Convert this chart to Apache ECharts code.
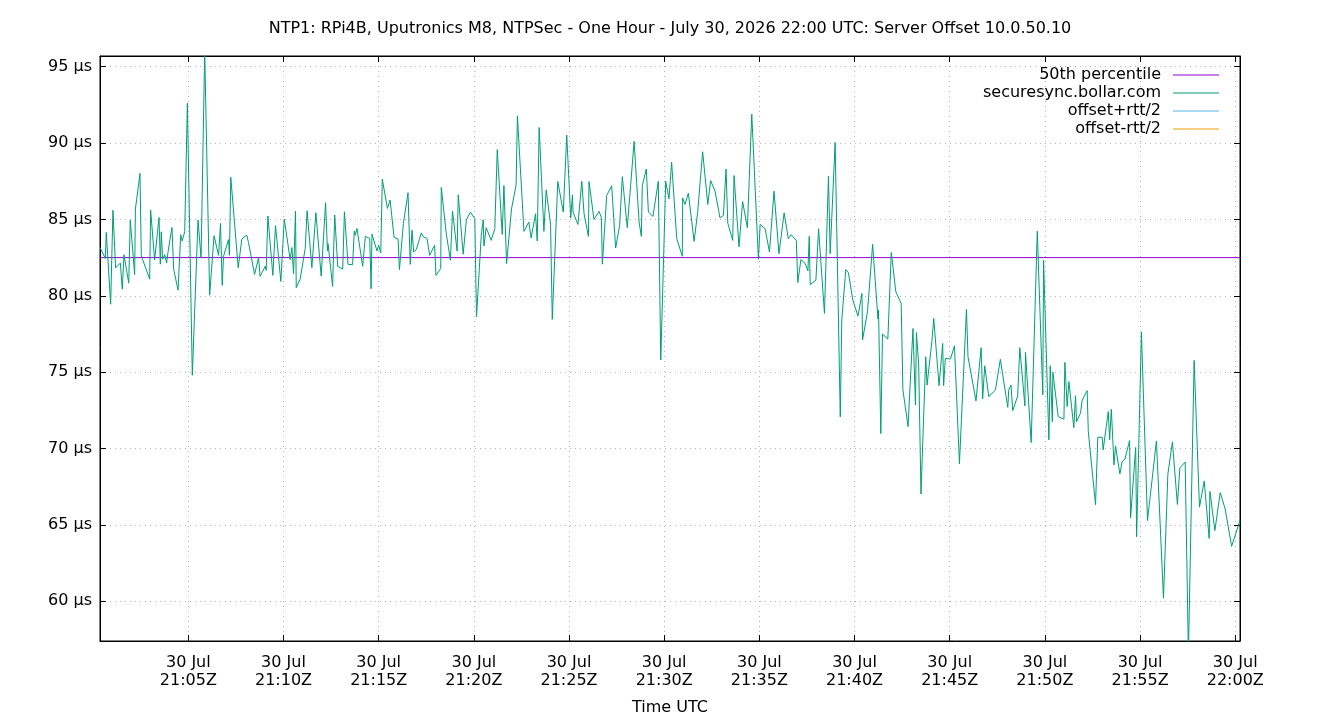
<!DOCTYPE html>
<html>
<head>
<meta charset="utf-8">
<title>NTP1 Server Offset</title>
<script src="https://cdn.jsdelivr.net/npm/echarts@6.0.0/dist/echarts.min.js"></script>
<style>
    html, body { margin: 0; padding: 0; background: #fff; }
    #chart { width: 1340px; height: 720px; }
</style>
</head>
<body>
<div id="chart"></div>
<script>
// minutes after 21:00 UTC
var minutes = [
    0.36, 0.64, 0.69, 0.92, 1.04, 1.18, 1.43, 1.53, 1.62, 1.87, 1.95, 2.18, 2.22, 2.46, 2.53, 2.97, 3.02, 3.23, 3.46, 3.53,
    3.58, 3.65, 3.76, 3.86, 3.93, 4.14, 4.23, 4.46, 4.60, 4.68, 4.81, 4.95, 5.21, 5.51, 5.67, 5.86, 6.12, 6.35,
    6.59, 6.69, 6.78, 6.85, 7.11, 7.16, 7.23, 7.62, 7.81, 8.07, 8.16, 8.48, 8.69, 8.77, 9.04, 9.09, 9.18, 9.44, 9.58, 9.86,
    10.04, 10.35, 10.44, 10.53, 10.63, 10.67, 10.88, 11.14, 11.24, 11.49, 11.70, 11.98, 12.21, 12.31,
    12.34, 12.58, 12.69, 12.85, 13.11, 13.20, 13.39, 13.63, 13.72, 13.77, 13.86, 14.16, 14.30, 14.53, 14.60, 14.65, 14.91,
    15.00, 15.11, 15.19, 15.46, 15.60, 15.81, 16.02, 16.09, 16.30, 16.54, 16.66, 16.75, 16.84, 16.98, 17.24, 17.35, 17.54,
    17.68, 17.94, 18.01, 18.26, 18.29,
    18.55, 18.77, 18.88, 19.12, 19.18, 19.44, 19.61, 19.82, 20.05, 20.14, 20.39, 20.49, 20.53, 20.65, 20.91, 21.10, 21.23,
    21.49, 21.58, 21.72, 21.98, 22.22, 22.29, 22.63, 22.89, 23.01, 23.24, 23.33, 23.43, 23.68, 23.80, 24.03, 24.12, 24.41,
    24.70, 24.88, 25.09, 25.18, 25.21, 25.47, 25.67, 25.79, 26.02, 26.05, 26.31, 26.58, 26.70, 26.75, 26.98, 27.24, 27.45,
    27.66, 27.80, 28.06, 28.42, 28.68, 28.80, 28.85, 29.06, 29.17, 29.41, 29.69, 29.82, 30.08, 30.25, 30.39,
    30.66, 30.95, 30.97, 31.09, 31.27, 31.57, 31.76, 32.02, 32.29, 32.44, 32.67, 32.93, 33.11, 33.25, 33.34, 33.60, 33.67,
    33.93, 34.12, 34.37, 34.60, 34.95, 35.04, 35.30, 35.53, 35.77, 36.03, 36.30, 36.52,
    36.67, 36.94, 37.02, 37.18, 37.41, 37.55, 37.62, 37.67, 37.97, 38.11, 38.42, 38.63, 38.72, 38.98, 39.25, 39.33, 39.54,
    39.68, 39.91, 40.18, 40.39, 40.42, 40.68, 40.95, 41.23, 41.26, 41.38, 41.47, 41.75, 41.93, 42.17, 42.45, 42.54,
    42.81, 43.07, 43.20, 43.25, 43.37, 43.49, 43.74, 43.81, 44.07, 44.16, 44.44, 44.63, 44.68, 44.77, 45.04, 45.25, 45.51,
    45.88, 45.96, 46.38, 46.65, 46.73, 46.84, 47.05, 47.40, 47.49, 47.66, 48.05, 48.10, 48.22, 48.31, 48.57, 48.68,
    48.95, 48.98, 49.28, 49.60, 49.89, 49.93, 50.21, 50.28, 50.39, 50.42, 50.70, 51.00, 51.05, 51.17, 51.26, 51.52, 51.61,
    51.66, 51.87, 51.96, 52.22, 52.28, 52.66, 52.78, 53.01, 53.06, 53.33, 53.40, 53.49, 53.63, 53.71, 53.94, 54.06, 54.20,
    54.45, 54.50,
    54.77, 54.82, 55.07, 55.39, 55.86, 56.23, 56.46, 56.70, 56.96, 57.09, 57.37, 57.54, 57.84, 58.12, 58.37, 58.63, 58.67,
    58.93, 59.21, 59.47, 59.81, 60.25
];
// offset in µs
var offsetUs = [
    83.17, 82.45, 84.15, 79.45, 85.6, 81.83, 82.14, 80.44, 82.69, 80.83, 84.96, 81.38, 85.68, 88.01, 82.62, 81.09, 85.61, 82.34, 85.13, 82.07,
    84.19, 82.4, 82.69, 82.14, 82.84, 84.48, 81.75, 80.37, 84.0, 83.6, 84.19, 92.6, 74.8, 84.96, 82.47, 96.0, 80.04, 83.93,
    82.65, 84.74, 80.68, 82.59, 83.68, 82.65, 87.76, 81.84, 83.71, 83.97, 83.5, 81.4, 82.5, 81.27, 81.93, 81.67, 85.22, 81.34, 84.6, 80.94,
    85.02, 82.37, 83.16, 81.45, 85.55, 80.53, 81.12, 83.09, 85.57, 81.84, 85.44, 81.29, 86.1, 82.94,
    83.42, 80.61, 85.29, 81.93, 81.75, 85.5, 82.06, 82.04, 84.25, 83.97, 84.41, 81.93, 83.9, 83.75, 80.46, 84.04, 82.94,
    83.31, 82.81, 87.63, 85.72, 86.27, 83.82, 83.71, 81.71, 84.74, 86.75, 82.06, 84.3, 82.87, 83.03, 84.12, 83.86, 83.75,
    82.65, 83.31, 81.34, 81.78, 87.1,
    84.07, 82.33, 85.54, 82.93, 86.61, 82.72, 84.98, 85.48, 85.04, 78.63, 83.96, 84.98, 83.26, 84.46, 83.63, 84.39, 89.57,
    84.02, 87.22, 82.11, 85.7, 87.26, 91.78, 84.22, 84.83, 83.78, 85.37, 83.59, 91.02, 84.22, 86.93, 84.67, 78.46, 87.48,
    85.48, 90.52, 85.11, 86.61, 85.48, 84.67, 87.5, 85.37, 83.89, 87.48, 85.0, 85.52, 85.11, 82.07, 86.57, 87.2, 83.13,
    84.61, 87.8, 84.46, 90.11, 84.83, 83.89, 87.22, 88.3, 85.48, 85.2, 87.5, 75.8, 87.5, 86.35, 88.74,
    83.74, 82.59, 86.41, 85.98, 86.72, 83.57, 85.48, 89.43, 85.98, 87.54, 86.85, 85.11, 85.26, 88.3, 84.76, 83.63, 87.87,
    83.2, 86.17, 84.46, 91.89, 82.39, 84.67, 84.39, 82.87, 86.85, 82.76, 85.43, 83.74,
    84.0, 83.63, 80.87, 82.37, 82.11, 81.63, 83.89, 80.74, 81.02, 84.39, 78.85, 87.83, 82.76, 90.04, 72.07, 78.41, 81.72,
    81.5, 79.72, 78.67, 80.15, 77.11, 78.96, 83.37, 78.48, 79.07, 70.98, 77.5, 77.17, 82.83, 80.26, 79.5, 73.85,
    71.44, 77.86, 72.85, 77.6, 75.47, 67.02, 76.01, 74.16, 77.1, 78.52, 74.12, 76.88, 74.12, 75.9, 75.86, 76.73, 69.0,
    79.11, 76.01, 73.12, 76.6, 73.25, 75.42, 73.4, 73.83, 73.94, 75.84, 72.7, 73.83, 74.16, 72.48, 73.44, 76.6,
    72.79, 76.3, 70.39, 84.23, 73.51, 82.33, 70.57, 75.42, 71.76, 75.0, 72.09, 71.92, 75.64, 72.75, 74.38, 71.37, 73.46,
    71.76, 72.31, 73.18, 73.79, 71.11, 66.32, 70.74, 70.74, 69.91, 72.42, 70.57, 72.57, 68.93, 70.17, 68.34, 69.15, 69.3,
    70.52, 65.45,
    70.07, 64.23, 77.63, 65.29, 70.5, 60.2, 68.31, 70.44, 66.34, 68.73, 69.12, 56.5, 75.77, 66.16, 67.87, 64.12, 67.19,
    64.63, 67.11, 66.05, 63.6, 65.29
];
var median50 = 82.5;
var seriesNames = ['50th percentile', 'securesync.bollar.com', 'offset+rtt/2', 'offset-rtt/2'];
var seriesColors = ['#9400d3', '#009e73', '#56b4e9', '#e69f00'];
var yMin = 57.4;
var yMax = 95.7;

(function () {
    var font = 'DejaVu Sans';
    var xMin = minutes[0];
    var xMax = minutes[minutes.length - 1];

    // [time, value] pairs
    var offsetData = minutes.map(function (m, i) {
        return [m, offsetUs[i]];
    });
    var medianData = [[xMin, median50], [xMax, median50]];

    // 30 Jul / 21:05Z
    var timeLabel = function (v) {
        var h = 21 + Math.floor(v / 60);
        var m = Math.round(v % 60);
        return '30 Jul\n' + h + ':' + (m < 10 ? '0' + m : m) + 'Z';
    };

    var tick = { show: true, inside: true, length: 6, lineStyle: { color: '#000', width: 1 } };
    var axisLine = { show: true, lineStyle: { color: '#000', width: 1 } };
    var grid = { show: true, lineStyle: { color: '#b4b4b4', width: 1, type: [1, 4] } };

    var option = {
        animation: false,
        backgroundColor: '#fff',
        title: {
            text: 'NTP1: RPi4B, Uputronics M8, NTPSec - One Hour - July 30, 2026 22:00 UTC: Server Offset 10.0.50.10',
            left: 'center',
            top: 16,
            textStyle: { fontFamily: font, fontSize: 16, fontWeight: 'normal', color: '#000' }
        },
        legend: {
            orient: 'vertical',
            right: 116,
            top: 62,
            align: 'right',
            icon: 'rect',
            itemWidth: 46,
            itemHeight: 1,
            itemGap: 2,
            data: seriesNames,
            textStyle: { fontFamily: font, fontSize: 16, color: '#000', padding: [0, 7, 0, 0] }
        },
        grid: {
            left: 100,
            right: 100,
            top: 56,
            bottom: 79,
            outerBoundsMode: 'none',
            show: true,
            borderColor: '#000',
            borderWidth: 1
        },
        xAxis: [
            {
                type: 'value',
                min: xMin,
                max: xMax,
                splitNumber: 12,
                name: 'Time UTC',
                nameLocation: 'middle',
                nameGap: 59,
                nameTextStyle: { fontFamily: font, fontSize: 16, color: '#000' },
                axisLine: axisLine,
                axisTick: tick,
                splitLine: grid,
                axisLabel: {
                    showMinLabel: false,
                    showMaxLabel: false,
                    margin: 13,
                    lineHeight: 18,
                    fontFamily: font,
                    fontSize: 16,
                    color: '#000',
                    formatter: timeLabel
                }
            },
            {
                type: 'value',
                position: 'top',
                min: xMin,
                max: xMax,
                splitNumber: 12,
                axisLine: axisLine,
                axisTick: tick,
                splitLine: { show: false },
                axisLabel: { show: false }
            }
        ],
        yAxis: [
            {
                type: 'value',
                min: yMin,
                max: yMax,
                splitNumber: 8,
                axisLine: axisLine,
                axisTick: tick,
                splitLine: grid,
                axisLabel: {
                    showMinLabel: false,
                    showMaxLabel: false,
                    margin: 8,
                    fontFamily: font,
                    fontSize: 16,
                    color: '#000',
                    formatter: '{value} µs'
                }
            },
            {
                type: 'value',
                position: 'right',
                min: yMin,
                max: yMax,
                splitNumber: 8,
                axisLine: axisLine,
                axisTick: tick,
                splitLine: { show: false },
                axisLabel: { show: false }
            }
        ],
        series: [
            {
                name: seriesNames[0],
                type: 'line',
                data: medianData,
                symbol: 'none',
                color: seriesColors[0],
                lineStyle: { color: seriesColors[0], width: 1 }
            },
            {
                name: seriesNames[1],
                type: 'line',
                data: offsetData,
                symbol: 'none',
                color: seriesColors[1],
                lineStyle: { color: seriesColors[1], width: 1 }
            },
            {
                name: seriesNames[2],
                type: 'line',
                data: [],
                symbol: 'none',
                color: seriesColors[2],
                lineStyle: { color: seriesColors[2], width: 1 }
            },
            {
                name: seriesNames[3],
                type: 'line',
                data: [],
                symbol: 'none',
                color: seriesColors[3],
                lineStyle: { color: seriesColors[3], width: 1 }
            }
        ]
    };

    var myechart = echarts.init(document.getElementById('chart'));
    myechart.setOption(option);
})();
</script>
</body>
</html>
